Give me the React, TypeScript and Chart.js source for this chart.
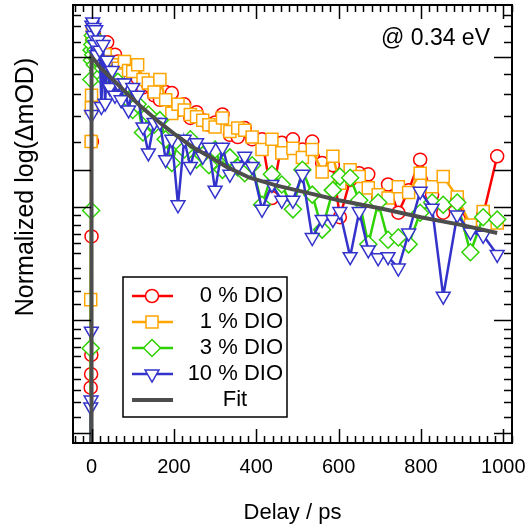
import React, { useEffect, useRef } from "react";
import { Chart, registerables } from "chart.js";

Chart.register(...registerables);

// ---- data (y = log10 of normalized signal) ----
const TIMES = [-3, -2, -1, -0.5, 0,
  1, 2, 3, 4, 6, 8, 10, 13, 16, 20,
  24, 28, 33, 38, 44, 50, 57, 64, 72, 80,
  90, 100, 112, 125, 138, 152, 166, 180, 195, 210,
  225, 240, 255, 270, 285, 300, 318, 336, 355, 372,
  390, 414, 438, 462, 489, 512, 536, 560, 586, 603,
  628, 650, 672, 696, 720, 745, 770, 798, 827, 854,
  888, 920, 951, 985];

const DIO0 = [-3.65, -2.93, -2.81, -2.64, -1.59,
  -0.75, 0.08, 0.17, 0.13, 0.19, 0.11, 0.15, 0.06, 0.12, 0.08,
  0.04, 0.09, 0.11, 0.13, 0.02, -0.01, 0.02, -0.04, -0.10, -0.08,
  -0.16, -0.20, -0.19, -0.27, -0.25, -0.34, -0.38, -0.31, -0.32, -0.47,
  -0.42, -0.54, -0.49, -0.56, -0.60, -0.58, -0.51, -0.69, -0.71, -0.63,
  -0.73, -0.73, -1.25, -0.76, -0.73, -0.82, -0.75, -0.94, -0.96, -1.42,
  -1.09, -1.03, -1.04, -1.25, -1.13, -1.38, -1.18, -0.91, -1.22, -1.38,
  -1.27, -1.51, -1.40, -0.88];

const DIO1 = [-3.65, -2.15, -0.75, -0.45, -0.34,
  0.15, 0.24, 0.11, 0.17, 0.06, 0.13, 0.02, 0.08, -0.03, 0.04,
  -0.01, -0.07, 0.02, -0.04, -0.12, -0.07, -0.13, -0.10, -0.16, -0.04,
  -0.12, -0.13, -0.07, -0.20, -0.23, -0.31, -0.20, -0.38, -0.50, -0.42,
  -0.47, -0.51, -0.53, -0.56, -0.60, -0.62, -0.54, -0.66, -0.63, -0.65,
  -0.71, -0.82, -0.73, -0.85, -0.81, -0.89, -0.82, -1.02, -0.88, -1.12,
  -1.00, -1.06, -1.16, -1.22, -1.25, -1.15, -1.20, -1.03, -1.15, -1.06,
  -1.24, -1.49, -1.37, -1.47];

const DIO3 = [-3.65, -2.58, -1.36, -0.20, 0.06,
  -0.03, 0.11, 0.19, 0.02, 0.15, -0.07, 0.06, -0.01, -0.12, -0.04,
  -0.16, -0.10, -0.20, -0.13, -0.25, -0.19, -0.29, -0.22, -0.34, -0.27,
  -0.38, -0.47, -0.42, -0.67, -0.51, -0.60, -0.56, -0.73, -0.94, -0.76,
  -0.82, -0.73, -0.91, -0.87, -0.96, -0.82, -1.00, -0.89, -0.98, -1.03,
  -0.96, -1.31, -1.04, -1.13, -1.35, -1.00, -1.22, -1.53, -1.18, -1.06,
  -1.07, -1.27, -1.66, -1.29, -1.62, -1.60, -1.66, -1.38, -1.29, -1.31,
  -1.29, -1.73, -1.42, -1.44];

const DIO10 = [-3.65, -3.10, -3.04, -2.43, -0.51,
  0.28, 0.24, 0.31, 0.19, 0.26, 0.11, 0.24, 0.02, 0.15, 0.06,
  -0.44, 0.11, -0.41, -0.03, -0.27, -0.12, -0.34, -0.23, -0.38, -0.23,
  -0.47, -0.27, -0.34, -0.62, -0.85, -0.58, -0.58, -0.91, -0.73, -1.31,
  -0.73, -0.97, -0.76, -0.88, -0.80, -1.18, -0.80, -1.04, -0.97, -0.88,
  -0.97, -1.35, -1.13, -1.27, -1.27, -1.04, -1.60, -1.44, -1.44, -1.37,
  -1.77, -1.37, -1.71, -1.78, -1.77, -1.87, -1.56, -1.19, -1.34, -2.12,
  -1.40, -1.55, -1.58, -1.75];

const FIT_T = [0, 0, 10, 20, 40, 60, 85, 120, 165, 200, 246, 290, 326, 384, 450, 520, 600, 700, 800, 900, 985];
const FIT_Y = [-3.65, 0.0, -0.04, -0.09, -0.16, -0.23, -0.32, -0.44, -0.58, -0.68, -0.8, -0.89, -0.97, -1.07, -1.14, -1.2, -1.27, -1.34, -1.42, -1.49, -1.56];

const SERIES_LABELS = ["0 % DIO", "1 % DIO", "3 % DIO", "10 % DIO", "Fit"];

// ---- axes ----
const X_MIN = -45;
const X_MAX = 1021;
const X_TICKS = [0, 200, 400, 600, 800, 1000];
const X_MINOR_STEP = 20;
const Y_MIN = -3.42;
const Y_MAX = 0.46;
const Y_MAJOR = [0, -1, -1.33, -2.33, -3.33];
const Y_MINOR = [0.37, 0.27, 0.13, -0.15, -0.33, -0.52, -0.75, -1.4, -1.49, -1.57, -1.65, -1.74, -1.87, -1.96, -2.07, -2.19, -2.41, -2.49, -2.57, -2.65, -2.75, -2.85, -2.95, -3.06, -3.19];

const FONT = '"Liberation Sans", Arial, sans-serif';
const RED = "#FF0000";
const ORANGE = "#FFA500";
const GREEN = "#2DD200";
const BLUE = "#3333CC";
const GRAY = "#4D4D4D";

function drawMarker(ctx: CanvasRenderingContext2D, style: string, x: number, y: number, r: number, color: string) {
  ctx.save();
  ctx.beginPath();
  if (style === "circle") {
    ctx.arc(x, y, r, 0, Math.PI * 2);
  } else if (style === "rect") {
    const s = r * Math.SQRT1_2;
    ctx.rect(x - s, y - s, 2 * s, 2 * s);
  } else if (style === "rectRot") {
    ctx.moveTo(x, y - r); ctx.lineTo(x + r, y); ctx.lineTo(x, y + r); ctx.lineTo(x - r, y); ctx.closePath();
  } else if (style === "triangleDown") {
    ctx.moveTo(x, y + r);
    ctx.lineTo(x + r * Math.sin(Math.PI / 3), y - r * 0.5);
    ctx.lineTo(x - r * Math.sin(Math.PI / 3), y - r * 0.5);
    ctx.closePath();
  }
  ctx.fillStyle = "#fff";
  ctx.fill();
  ctx.lineWidth = 1.5;
  ctx.strokeStyle = color;
  ctx.stroke();
  ctx.restore();
}

const decorPlugin = {
  id: "decor",
  afterDraw(chart: any) {
    const { ctx, chartArea: a, scales } = chart;
    const xs = scales.x, ys = scales.y;
    const line = (x1: number, y1: number, x2: number, y2: number) => {
      ctx.beginPath(); ctx.moveTo(x1, y1); ctx.lineTo(x2, y2); ctx.stroke();
    };
    ctx.save();
    ctx.strokeStyle = "#000";
    ctx.lineWidth = 1.5;
    // x ticks (inward, top and bottom)
    for (let v = Math.ceil(X_MIN / X_MINOR_STEP) * X_MINOR_STEP; v <= X_MAX; v += X_MINOR_STEP) {
      const px = Math.round(xs.getPixelForValue(v)) + 0.5;
      const major = X_TICKS.includes(v);
      const len = major ? 14 : 7;
      line(px, a.bottom, px, a.bottom - len);
      line(px, a.top, px, a.top + len);
    }
    // y ticks (inward, left and right)
    const yt = (v: number, len: number) => {
      const py = Math.round(ys.getPixelForValue(v)) + 0.5;
      line(a.left, py, a.left + len, py);
      line(a.right, py, a.right - len, py);
    };
    Y_MAJOR.forEach((v) => yt(v, 18));
    Y_MINOR.forEach((v) => yt(v, 8));
    // frame
    ctx.lineWidth = 2;
    ctx.strokeRect(a.left, a.top, a.right - a.left, a.bottom - a.top);

    // annotation
    ctx.fillStyle = "#000";
    ctx.font = `23px ${FONT}`;
    ctx.textAlign = "right";
    ctx.textBaseline = "middle";
    ctx.fillText("@ 0.34 eV", a.right - 22, a.top + 34);

    // y title
    ctx.save();
    ctx.translate(26, 187);
    ctx.rotate(-Math.PI / 2);
    ctx.textAlign = "center";
    ctx.textBaseline = "middle";
    ctx.font = `25px ${FONT}`;
    ctx.fillText("Normalized log(\u0394mOD)", 0, 0);
    ctx.restore();

    // legend
    const lx = a.left + 50, ly = a.top + 272, lw = 164, lh = 140;
    ctx.fillStyle = "#fff";
    ctx.fillRect(lx, ly, lw, lh);
    ctx.lineWidth = 1.5;
    ctx.strokeStyle = "#000";
    ctx.strokeRect(lx, ly, lw, lh);
    const items = [
      { c: RED, s: "circle", r: 6.5 },
      { c: ORANGE, s: "rect", r: 8.5 },
      { c: GREEN, s: "rectRot", r: 8.5 },
      { c: BLUE, s: "triangleDown", r: 8 },
      { c: GRAY, s: "", r: 0 },
    ];
    items.forEach((it, i) => {
      const cy = ly + 19 + i * 26;
      ctx.strokeStyle = it.c;
      ctx.lineWidth = it.s ? 2.5 : 4;
      line(lx + 9, cy, lx + 50, cy);
      if (it.s) drawMarker(ctx, it.s, lx + 29, cy, it.r, it.c);
      ctx.fillStyle = "#000";
      ctx.font = `22px ${FONT}`;
      ctx.textBaseline = "middle";
      if (it.s) {
        ctx.textAlign = "right";
        ctx.fillText(SERIES_LABELS[i], lx + 160, cy);
      } else {
        ctx.textAlign = "center";
        ctx.fillText(SERIES_LABELS[i], lx + 112, cy);
      }
    });
    ctx.restore();
  },
};

export default function App() {
  const ref = useRef<HTMLCanvasElement>(null);
  useEffect(() => {
    document.body.style.margin = "0";
    const canvas = ref.current!;
    const mk = (label: string, ys: number[], color: string, style: string, radius: number, rotation: number, order: number) => ({
      label,
      data: TIMES.map((t, i) => ({ x: t, y: ys[i] })),
      borderColor: color,
      backgroundColor: "#fff",
      borderWidth: 2.5,
      pointStyle: style,
      pointRadius: radius,
      pointRotation: rotation,
      pointBorderColor: color,
      pointBackgroundColor: "#fff",
      pointBorderWidth: 1.5,
      tension: 0,
      order,
    });
    const chart = new Chart(canvas, {
      type: "line",
      data: {
        datasets: [
          mk(SERIES_LABELS[0], DIO0, RED, "circle", 6.5, 0, 4),
          mk(SERIES_LABELS[1], DIO1, ORANGE, "rect", 8.5, 0, 3),
          mk(SERIES_LABELS[2], DIO3, GREEN, "rectRot", 8.5, 0, 2),
          mk(SERIES_LABELS[3], DIO10, BLUE, "triangle", 8, 180, 1),
          {
            label: SERIES_LABELS[4],
            data: FIT_T.map((t, i) => ({ x: t, y: FIT_Y[i] })),
            borderColor: GRAY,
            borderWidth: 4,
            pointRadius: 0,
            tension: 0,
            order: 0,
          } as any,
        ],
      },
      options: {
        responsive: false,
        animation: false,
        devicePixelRatio: 1,
        layout: { autoPadding: false, padding: { left: 73, top: 5, right: 17, bottom: 0 } },
        plugins: { legend: { display: false }, tooltip: { enabled: false } },
        scales: {
          x: {
            type: "linear",
            min: X_MIN,
            max: X_MAX,
            grid: { display: false, drawTicks: false },
            border: { display: false },
            afterBuildTicks: (s: any) => {
              s.ticks = X_TICKS.map((v) => ({ value: v }));
            },
            afterFit: (s: any) => {
              s.paddingLeft = 0;
              s.paddingRight = 0;
              s.height = 87;
            },
            ticks: {
              padding: 12,
              color: "#000",
              font: { family: FONT, size: 20 },
              maxRotation: 0,
              autoSkip: false,
              callback: (v: any) => String(v),
            },
            title: {
              display: true,
              text: "Delay / ps",
              color: "#000",
              font: { family: FONT, size: 22 },
              padding: { top: 20, bottom: 4 },
            },
          },
          y: { type: "linear", min: Y_MIN, max: Y_MAX, display: false },
        },
      },
      plugins: [decorPlugin],
    } as any);
    return () => chart.destroy();
  }, []);
  return (
    <div style={{ width: 529, height: 530 }}>
      <canvas ref={ref} width={529} height={530} />
    </div>
  );
}
